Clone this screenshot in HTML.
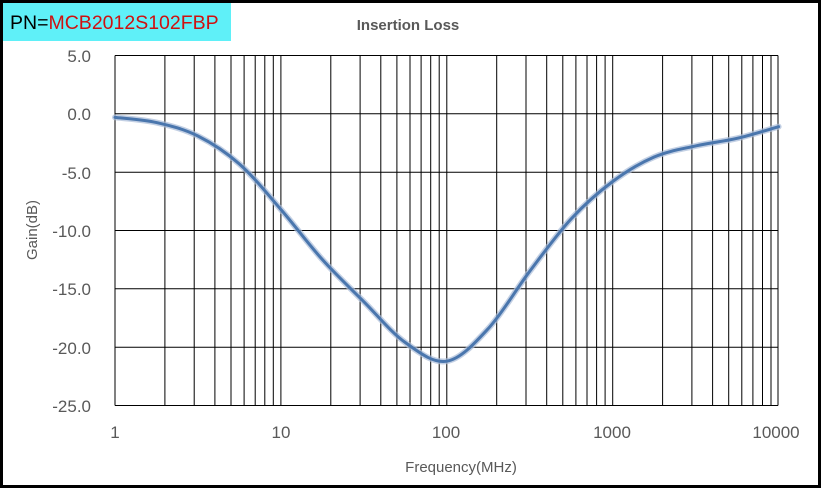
<!DOCTYPE html>
<html><head><meta charset="utf-8"><style>
body{margin:0;background:#fff;}
svg{display:block;font-family:"Liberation Sans",sans-serif;}
</style></head><body>
<svg id="s" width="821" height="488" xmlns="http://www.w3.org/2000/svg">
<rect x="1.5" y="1.5" width="818" height="485" fill="#fff" stroke="#000" stroke-width="3"/>
<rect x="3" y="3" width="228" height="38" fill="#5ff0f8"/>
<text x="10" y="29" font-size="19.5" fill="#000">PN=<tspan fill="#d01010">MCB2012S102FBP</tspan></text>
<text x="408" y="30" font-size="15" font-weight="bold" fill="#595959" text-anchor="middle">Insertion Loss</text>
<g id="grid" stroke="#000" stroke-width="1"></g>
<g font-size="17" fill="#595959" text-anchor="end">
<text x="91" y="62">5.0</text><text x="91" y="120">0.0</text><text x="91" y="179">-5.0</text>
<text x="91" y="237">-10.0</text><text x="91" y="295">-15.0</text><text x="91" y="354">-20.0</text>
<text x="91" y="412">-25.0</text></g>
<g font-size="17" fill="#595959" text-anchor="middle">
<text x="115" y="438">1</text><text x="281" y="438">10</text><text x="446" y="438">100</text>
<text x="612" y="438">1000</text><text x="776" y="438">10000</text></g>
<text x="461" y="472" font-size="15" fill="#595959" text-anchor="middle">Frequency(MHz)</text>
<text transform="translate(37,230) rotate(-90)" font-size="15" fill="#595959" text-anchor="middle">Gain(dB)</text>
<path id="c2" fill="none" stroke="#a9bcd8" stroke-width="6" stroke-linecap="round" opacity="0.7"/>
<path id="c" fill="none" stroke="#4a76ad" stroke-width="3" stroke-linecap="round"/>
</svg>
<script>
var X0=115,D=165.9,Y0=55.5,U=11.667;
function px(f){return X0+Math.log10(f)*D}function py(v){return Y0+(5-v)*U}
var g=document.getElementById('grid'),h='';
for(var d=0;d<4;d++)for(var k=1;k<10;k++){var x=px(k*Math.pow(10,d)).toFixed(1);h+='<line x1="'+x+'" y1="'+Y0+'" x2="'+x+'" y2="405.5"/>';}
h+='<line x1="778" y1="55.5" x2="778" y2="405.5"/>';
for(var v=5;v>=-25;v-=5){var y=py(v).toFixed(1);h+='<line x1="115" y1="'+y+'" x2="778" y2="'+y+'"/>';}
g.innerHTML=h;
var P=[[1,-0.3],[1.78,-0.75],[3.16,-1.9],[5.62,-4.3],[10,-8.2],[17.8,-12.5],[31.6,-16.1],[56.2,-19.6],[100,-21.2],[178,-18.4],[316,-13.5],[562,-9.0],[1000,-5.8],[1778,-3.7],[3162,-2.75],[5623,-2.1],[10000,-1.1]].map(function(p){return[px(p[0]),py(p[1])]});
var s='M'+P[0][0]+','+P[0][1];
for(var i=0;i<P.length-1;i++){var p0=P[i-1]||P[i],p1=P[i],p2=P[i+1],p3=P[i+2]||p2;
s+=' C'+(p1[0]+(p2[0]-p0[0])/6)+','+(p1[1]+(p2[1]-p0[1])/6)+' '+(p2[0]-(p3[0]-p1[0])/6)+','+(p2[1]-(p3[1]-p1[1])/6)+' '+p2[0]+','+p2[1];}
document.getElementById('c').setAttribute('d',s);document.getElementById('c2').setAttribute('d',s);
</script>
</body></html>
